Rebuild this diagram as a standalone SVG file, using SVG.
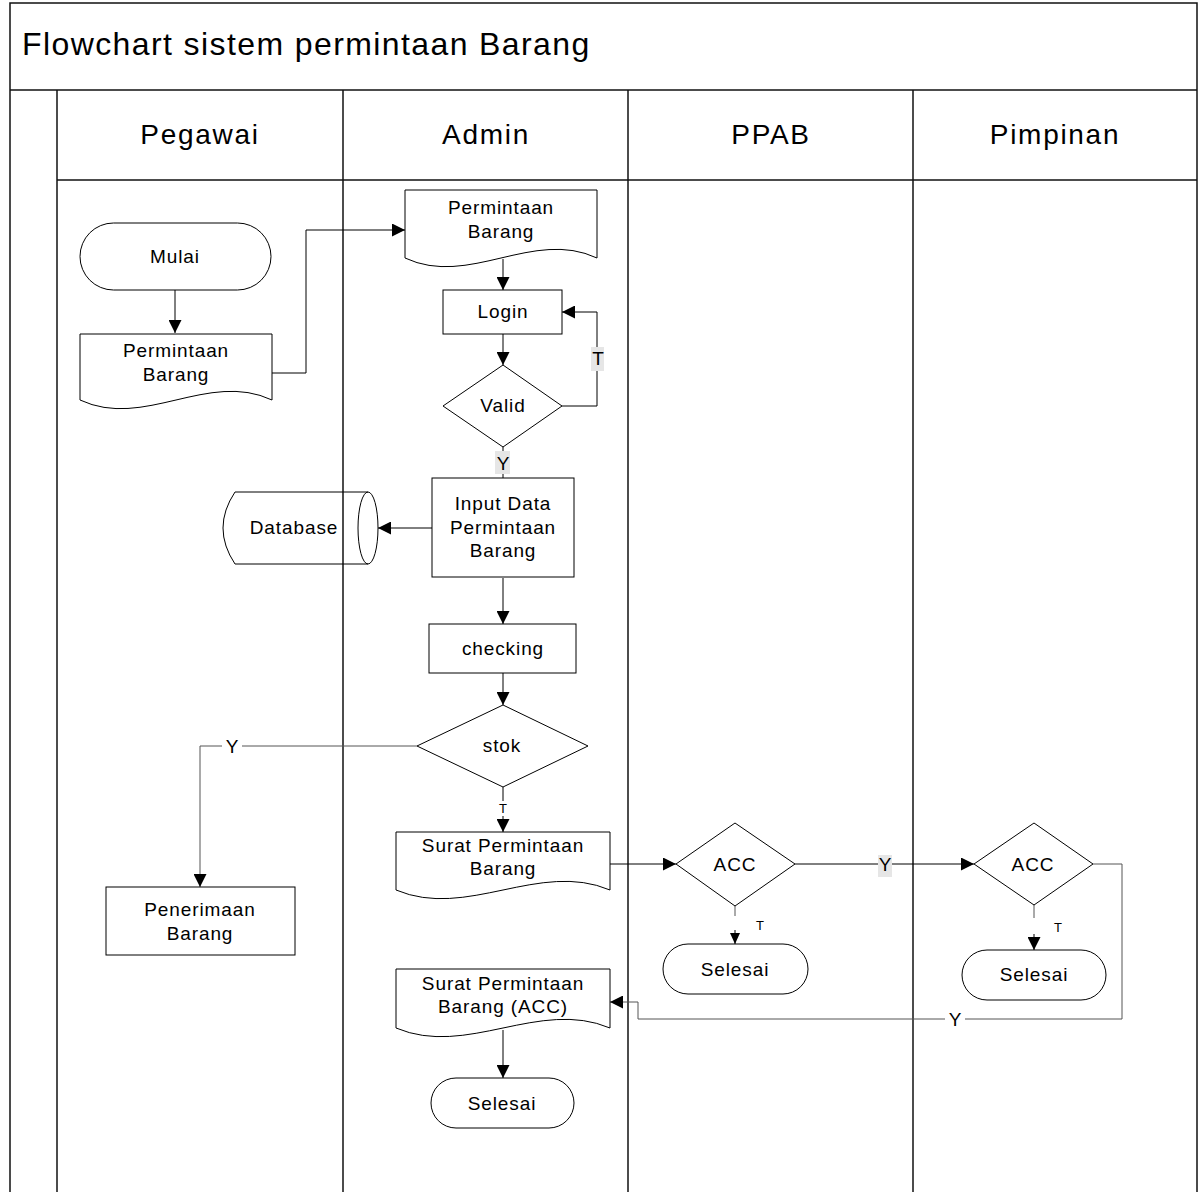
<svg xmlns="http://www.w3.org/2000/svg" width="1202" height="1192" viewBox="0 0 1202 1192">
<defs>
<style>
.frame{fill:none;stroke:#111;stroke-width:1.5}
.shape{fill:#fff;stroke:#000;stroke-width:1}
.open{fill:none;stroke:#000;stroke-width:1}
.conn{fill:none;stroke:#000;stroke-width:1}
.gray{fill:none;stroke:#555;stroke-width:1}
.t{font-family:"Liberation Sans",Arial,Helvetica,sans-serif;font-size:19px;letter-spacing:0.9px;text-anchor:middle;fill:#000}
.s{font-family:"Liberation Sans",Arial,Helvetica,sans-serif;font-size:13px;text-anchor:middle;fill:#000}
.h{font-family:"Liberation Sans",Arial,Helvetica,sans-serif;font-size:28px;letter-spacing:1.7px;text-anchor:middle;fill:#000}
.title{font-family:"Liberation Sans",Arial,Helvetica,sans-serif;font-size:32px;letter-spacing:1.4px;fill:#000}
.lblbg{fill:#e6e6e6;stroke:none}
.whitebg{fill:#fff;stroke:none}
</style>
<marker id="arr" markerWidth="13" markerHeight="13" refX="13" refY="6.5" orient="auto" markerUnits="userSpaceOnUse"><path d="M0,0 L13,6.5 L0,13 Z" fill="#000"/></marker>
<marker id="arrs" markerWidth="11" markerHeight="10" refX="11" refY="5" orient="auto" markerUnits="userSpaceOnUse"><path d="M0,0 L11,5 L0,10 Z" fill="#000"/></marker>
</defs>
<rect x="0" y="0" width="1202" height="1192" fill="#fff"/>

<g id="frame">
<path class="frame" d="M10,1192 V3 H1197 V1192"/>
<line class="frame" x1="10" y1="90" x2="1197" y2="90"/>
<line class="frame" x1="57" y1="180" x2="1197" y2="180"/>
<line class="frame" x1="57" y1="90" x2="57" y2="1192"/>
<line class="frame" x1="343" y1="90" x2="343" y2="1192"/>
<line class="frame" x1="628" y1="90" x2="628" y2="1192"/>
<line class="frame" x1="913" y1="90" x2="913" y2="1192"/>
<text class="title" x="22" y="55">Flowchart sistem permintaan Barang</text>
<text class="h" x="200" y="144">Pegawai</text>
<text class="h" x="486" y="144">Admin</text>
<text class="h" x="771" y="144">PPAB</text>
<text class="h" x="1055" y="144">Pimpinan</text>
</g>

<g id="connectors">
<path class="conn" d="M175,290 V333" marker-end="url(#arr)"/>
<path class="conn" d="M272,373 H306 V230 H405" marker-end="url(#arr)"/>
<path class="conn" d="M503,259 V290" marker-end="url(#arr)"/>
<path class="conn" d="M503,334 V365" marker-end="url(#arr)"/>
<path class="conn" d="M562,406 H597 V312 H562" marker-end="url(#arr)"/>
<path class="conn" d="M503,447 V478"/>
<path class="conn" d="M432,528 H378" marker-end="url(#arr)"/>
<path class="conn" d="M503,578 V624" marker-end="url(#arr)"/>
<path class="conn" d="M503,673 V705" marker-end="url(#arr)"/>
<path class="gray" d="M417,746 H200 V887" marker-end="url(#arr)"/>
<path class="conn" d="M503,787 V801 M503,816 V832" marker-end="url(#arr)"/>
<path class="conn" d="M610,864 H676" marker-end="url(#arr)"/>
<path class="conn" d="M795,864 H974" marker-end="url(#arr)"/>
<path class="gray" d="M735,906 V916"/>
<path class="conn" d="M735,930 V944" marker-end="url(#arrs)"/>
<path class="gray" d="M1034,905 V918"/>
<path class="conn" d="M1034,934 V950" marker-end="url(#arr)"/>
<path class="gray" d="M1093,864 H1122 V1019 H638 V1002 H610" marker-end="url(#arr)"/>
<path class="conn" d="M503,1030 V1078" marker-end="url(#arr)"/>
<rect class="lblbg" x="591" y="347" width="13" height="24"/>
<text class="t" x="598" y="365" style="letter-spacing:0">T</text>
<rect class="lblbg" x="495" y="451" width="15" height="23"/>
<text class="t" x="503" y="470" style="letter-spacing:0">Y</text>
<rect class="whitebg" x="222" y="736" width="20" height="20"/>
<text class="t" x="232" y="753" style="letter-spacing:0">Y</text>
<text class="s" x="503" y="813">T</text>
<rect class="lblbg" x="878" y="855" width="14" height="22"/>
<text class="t" x="885" y="871" style="letter-spacing:0">Y</text>
<text class="s" x="760" y="930">T</text>
<text class="s" x="1058" y="932">T</text>
<rect class="whitebg" x="945" y="1009" width="20" height="20"/>
<text class="t" x="955" y="1026" style="letter-spacing:0">Y</text>
</g>

<g id="mulai">
<rect class="shape" x="80" y="223" width="191" height="67" rx="33.5"/>
<text class="t" x="175" y="263">Mulai</text>
</g>

<g id="doc-pegawai">
<path class="shape" d="M80,334 H272 V400 C208,370 144,430 80,400 Z"/>
<text class="t" x="176" y="357">Permintaan</text>
<text class="t" x="176" y="381">Barang</text>
</g>

<g id="doc-admin">
<path class="shape" d="M405,190 H597 V258 C533,228 469,288 405,258 Z"/>
<text class="t" x="501" y="214">Permintaan</text>
<text class="t" x="501" y="238">Barang</text>
</g>

<g id="login">
<rect class="shape" x="443" y="290" width="119" height="44"/>
<text class="t" x="503" y="318">Login</text>
</g>

<g id="valid">
<path class="shape" d="M503,365 L562,406 L503,447 L443,406 Z"/>
<text class="t" x="503" y="412">Valid</text>
</g>

<g id="input">
<rect class="shape" x="432" y="478" width="142" height="99"/>
<text class="t" x="503" y="510">Input Data</text>
<text class="t" x="503" y="534">Permintaan</text>
<text class="t" x="503" y="557">Barang</text>
</g>

<g id="database">
<path class="open" d="M368,492 H235 Q211,528 235,564 H368"/>
<ellipse class="open" cx="368" cy="528" rx="10" ry="36"/>
<text class="t" x="294" y="534">Database</text>
</g>

<g id="checking">
<rect class="shape" x="429" y="624" width="147" height="49"/>
<text class="t" x="503" y="655">checking</text>
</g>

<g id="stok">
<path class="shape" d="M503,705 L588,746 L503,787 L417,746 Z"/>
<text class="t" x="502" y="752">stok</text>
</g>

<g id="penerimaan">
<rect class="shape" x="106" y="887" width="189" height="68"/>
<text class="t" x="200" y="916">Penerimaan</text>
<text class="t" x="200" y="940">Barang</text>
</g>

<g id="surat">
<path class="shape" d="M396,832 H610 V890 C539,860 467,920 396,890 Z"/>
<text class="t" x="503" y="852">Surat Permintaan</text>
<text class="t" x="503" y="875">Barang</text>
</g>

<g id="acc-ppab">
<path class="shape" d="M735,823 L795,864 L735,906 L676,864 Z"/>
<text class="t" x="735" y="871">ACC</text>
</g>

<g id="selesai-ppab">
<rect class="shape" x="663" y="944" width="145" height="50" rx="25"/>
<text class="t" x="735" y="976">Selesai</text>
</g>

<g id="acc-pimpinan">
<path class="shape" d="M1034,823 L1093,864 L1034,905 L974,864 Z"/>
<text class="t" x="1033" y="871">ACC</text>
</g>

<g id="selesai-pimpinan">
<rect class="shape" x="962" y="950" width="144" height="50" rx="25"/>
<text class="t" x="1034" y="981">Selesai</text>
</g>

<g id="surat-acc">
<path class="shape" d="M396,969 H610 V1028 C539,998 467,1058 396,1028 Z"/>
<text class="t" x="503" y="990">Surat Permintaan</text>
<text class="t" x="503" y="1013">Barang (ACC)</text>
</g>

<g id="selesai-admin">
<rect class="shape" x="431" y="1078" width="143" height="50" rx="25"/>
<text class="t" x="502" y="1110">Selesai</text>
</g>
</svg>
